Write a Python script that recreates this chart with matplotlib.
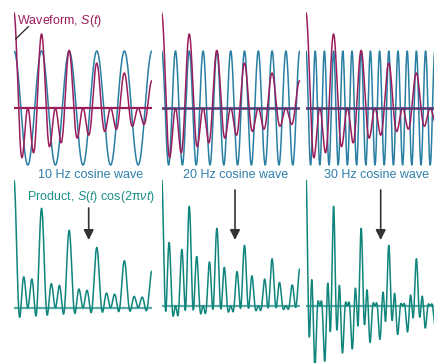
import numpy as np
import matplotlib
matplotlib.use("Agg")
import matplotlib.pyplot as plt

# ---- data (parameters) ----
probe_freqs = [10, 20, 30]            # Hz, cosine waves in the three columns
probe_labels = ["10 Hz cosine wave", "20 Hz cosine wave", "30 Hz cosine wave"]
signal_freqs = [10, 20]               # Hz, components of S(t)
signal_amps = [1.0, 1.0]              # relative amplitudes of the components
decay_time = 0.4                      # s, envelope e^(-t/tau)
duration = 0.5                        # s shown in each panel
cos_amp = 1.2                         # cosine amplitude relative to S units

plt.rcParams['font.family'] = ['Liberation Sans', 'DejaVu Sans']
plt.rcParams['mathtext.fontset'] = 'custom'
plt.rcParams['mathtext.rm'] = 'Liberation Sans'
plt.rcParams['mathtext.it'] = 'Liberation Sans:italic'
plt.rcParams['mathtext.default'] = 'it'

W, H = 435, 363
fig = plt.figure(figsize=(W / 100, H / 100), dpi=100)

WAVE = '#9b1d5c'
COS = '#2a7ea3'
PROD = '#10857c'
BASE = '#5aaba5'
TXT_COS = '#2f7fab'
TXT_PROD = '#1a9088'

panel_x0 = [14, 161.7, 306]
panel_w = 138
top_center = 108
top_scale = 47.5
bot_base = [307.7, 305.7, 305.7]
bot_scale = 63.8
split = 180

t = np.linspace(0, duration, 3000)
S = np.exp(-t / decay_time) * sum(a * np.cos(2 * np.pi * f * t) for f, a in zip(signal_freqs, signal_amps))


def px_axes(x0, w, ytop, ybot):
    return fig.add_axes([x0 / W, 1 - ybot / H, w / W, (ybot - ytop) / H])


for i, f in enumerate(probe_freqs):
    c = np.cos(2 * np.pi * f * t)
    # top panel
    ax = px_axes(panel_x0[i], panel_w, 0, split)
    ax.set_xlim(0, duration)
    ax.set_ylim(-(split - top_center) / top_scale, top_center / top_scale)
    ax.axis('off')
    ax.plot(t, cos_amp * c, color=COS, lw=1.1, solid_capstyle='butt')
    ax.plot(t, S, color=WAVE, lw=1.1)
    if i == 0:
        ax.axhline(0, color=WAVE, lw=1.6)
    else:
        ax.axhline(0, color='#3a3f78', lw=1.8)
        ax.axhline(0, color=WAVE, lw=0.6, alpha=0.7)
    # bottom panel
    axb = px_axes(panel_x0[i], panel_w, split, H)
    axb.set_xlim(0, duration)
    axb.set_ylim(-(H - bot_base[i]) / bot_scale, (bot_base[i] - split) / bot_scale)
    axb.axis('off')
    axb.axhline(0, color=BASE, lw=1.6)
    axb.plot(t, S * c, color=PROD, lw=1.1)

# overlay for text and arrows in pixel coordinates
ov = fig.add_axes([0, 0, 1, 1])
ov.set_xlim(0, W)
ov.set_ylim(H, 0)
ov.axis('off')

ov.text(17, 24, r"Waveform, $S$($t$)", color=WAVE, fontsize=9, va='baseline', ha='left')
ov.plot([28.3, 15.7], [26.7, 39], color='#222222', lw=0.9)

label_cx = [90.5, 235.5, 376.5]
for cx, lab in zip(label_cx, probe_labels):
    ov.text(cx, 178, lab, color=TXT_COS, fontsize=9, ha='center', va='baseline')

ov.text(27, 200, r"Product, $S(t)$ cos(2π$νt$)", color=TXT_PROD, fontsize=9, ha='left', va='baseline')

arrows = [(88.7, 208, 240), (235, 190, 240), (380.7, 190, 240)]
for x, y0, y1 in arrows:
    ov.annotate('', xy=(x, y1), xytext=(x, y0),
                arrowprops=dict(arrowstyle='-|>,head_length=0.6,head_width=0.3',
                                color='#333333', lw=1.2, mutation_scale=10,
                                shrinkA=0, shrinkB=0))

fig.savefig('out.png', dpi=100)
